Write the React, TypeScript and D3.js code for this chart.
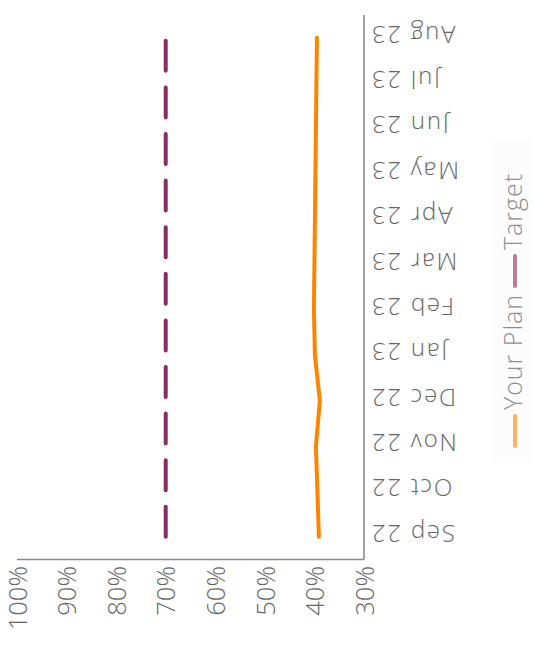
import React from "react";
import * as d3 from "d3";

// Monthly share values (percent)
const months = ["Sep 22", "Oct 22", "Nov 22", "Dec 22", "Jan 23", "Feb 23", "Mar 23", "Apr 23", "May 23", "Jun 23", "Jul 23", "Aug 23"];
const planValues = [39.1, 39.4, 39.7, 38.9, 39.9, 40.1, 40.0, 39.9, 39.8, 39.7, 39.6, 39.5];
const targetValues = [70, 70, 70, 70, 70, 70, 70, 70, 70, 70, 70, 70];
const percentTicks = [100, 90, 80, 70, 60, 50, 40, 30];
const legendLabels = ["Your Plan", "Target"];

const W = 535;
const H = 645;
const FONT = "'Open Sans', 'DejaVu Sans', sans-serif";
const PLAN_COLOR = "#fb8500";
const TARGET_COLOR = "#8a2c5f";
const AXIS_COLOR = "#8a8a8a";
const TEXT_COLOR = "#666";

export default function App() {
  // The chart is laid out sideways: values run right-to-left, months bottom-to-top.
  const x = d3.scaleLinear().domain([30, 100]).range([364, 17]);
  const y = d3.scaleBand<string>().domain(months).range([559.5, 15]);
  const cy = (m: string) => (y(m) ?? 0) + y.bandwidth() / 2;

  const line = d3
    .line<number>()
    .x((d) => x(d))
    .y((_, i) => cy(months[i]));

  const legendColors = [PLAN_COLOR, TARGET_COLOR];
  const legendStarts = [446, 286];
  const legendTextStarts = [410, 250];

  return (
    <svg width={W} height={H} style={{ position: "absolute", left: 0, top: 0 }}>
      <rect width={W} height={H} fill="#fff" />

      {/* axes */}
      <line x1={x(100)} x2={x(30)} y1={559.5} y2={559.5} stroke={AXIS_COLOR} strokeWidth={1.6} />
      <line x1={x(30)} x2={x(30)} y1={15} y2={559.5} stroke={AXIS_COLOR} strokeWidth={1.6} />

      {/* percent tick labels */}
      {percentTicks.map((t) => (
        <text
          key={t}
          transform={`translate(${x(t) + 0.5},566) rotate(-90)`}
          textAnchor="end"
          dy="0.36em"
          fontFamily={FONT}
          fontWeight={300}
          fontSize={25.5}
          fill={TEXT_COLOR}
        >
          {t}%
        </text>
      ))}

      {/* month labels */}
      {months.map((m) => (
        <text
          key={m}
          transform={`translate(370,${cy(m)}) rotate(180)`}
          textAnchor="end"
          dy="0.5em"
          fontFamily={FONT}
          fontWeight={300}
          fontSize={24}
          letterSpacing={1.8}
          fill={TEXT_COLOR}
        >
          {m}
        </text>
      ))}

      {/* target line */}
      <path
        d={line(targetValues) ?? ""}
        fill="none"
        stroke={TARGET_COLOR}
        strokeWidth={4}
        strokeLinecap="round"
        strokeDasharray="30,16.6"
      />

      {/* plan line */}
      <path
        d={line(planValues) ?? ""}
        fill="none"
        stroke={PLAN_COLOR}
        strokeWidth={4}
        strokeLinecap="round"
        strokeLinejoin="round"
      />

      {/* legend */}
      <rect x={494} y={140} width={38} height={322} fill="#fcfcfc" />
      <g opacity={0.6}>
        {legendLabels.map((lab, i) => (
          <g key={lab}>
            <line
              x1={515}
              x2={515}
              y1={legendStarts[i]}
              y2={legendStarts[i] - 30}
              stroke={legendColors[i]}
              strokeWidth={4}
              strokeLinecap="round"
            />
            <text
              transform={`translate(513,${legendTextStarts[i]}) rotate(-90)`}
              dy="0.36em"
              fontFamily={FONT}
              fontWeight={300}
              fontSize={25}
              letterSpacing={1}
              fill="#444"
            >
              {lab}
            </text>
          </g>
        ))}
      </g>
    </svg>
  );
}
